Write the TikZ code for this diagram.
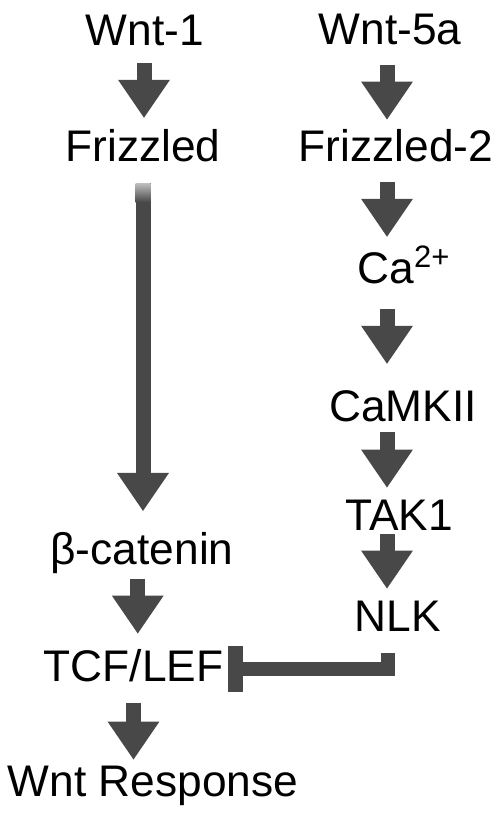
\documentclass[tikz,border=0pt]{standalone}
\usepackage{fontspec}
\setmainfont{Liberation Sans}
\usetikzlibrary{arrows.meta,calc}
\definecolor{flowgray}{HTML}{484848}
\tikzset{
  gene/.style={inner sep=0pt, text height=0.63cm, text depth=0pt, font=\fontsize{25.2}{30}\selectfont},
  flow/.style={flowgray, line width=0.3cm, -{Triangle[width=1.04cm,length=0.76cm,line width=0pt]}},
  inhib/.style={flowgray, line width=0.28cm},
}
\begin{document}
\begin{tikzpicture}[x=0.02cm,y=-0.02cm]
\useasboundingbox (0,0) rectangle (498,815);

% canonical pathway
\node[gene] (wnt1) at (145,29.5) {Wnt-1};
\node[gene] (fz1) at (143,146) {Frizzled};
\node[gene] (bcat) at (142,549) {β-catenin};
\node[gene] (tcf) at (133.5,666) {TCF/LEF};
\node[gene] (resp) at (153,781) {Wnt Response};

% Wnt/Ca2+ pathway
\coordinate (col2) at (387,0);
\node[gene] (wnt5a) at (390,29) {Wnt-5a};
\node[gene] (fz2) at (396,146) {Frizzled-2};
\node[gene] (ca) at (404,267.5) {Ca\textsuperscript{2+}};
\node[gene] (camk) at (403,406) {CaMKII};
\node[gene] (tak1) at (399,515) {TAK1};
\node[gene] (nlk) at (398,616) {NLK};

\draw[flow] ($(wnt1.south)!0.5!(fz1.north)$) +(0,-25) -- +(0,30);
\draw[flow,shorten <=0.42cm,shorten >=0.44cm] (fz1.south) -- (fz1.south |- bcat.north);
\shade[top color=flowgray!35, bottom color=flowgray] ($(fz1.south)+(-7.5,21)$) rectangle ($(fz1.south)+(7.5,40)$);
\draw[flow] ($(bcat.south)!0.5!(tcf.north)$) +(0,-29) -- +(0,26);
\draw[flow] ($(tcf.south)!0.5!(tcf.south |- resp.north)$) +(0,-21) -- +(0,36);

\draw[flow] ($(wnt5a.south -| col2)!0.5!(fz2.north -| col2)$) +(0,-23) -- +(0,32);
\draw[flow] ($(fz2.south -| col2)!0.5!(ca.north -| col2)$) +(0,-25) -- +(0,30);
\draw[flow] ($(ca.south -| col2)!0.5!(camk.north -| col2)$) +(0,-28) -- +(0,27);
\draw[flow] ($(camk.south -| col2)!0.5!(tak1.north -| col2)$) +(0,-29) -- +(0,27);
\draw[flow] ($(tak1.south -| col2)!0.5!(nlk.north -| col2)$) +(0,-32) -- +(0,23);

% NLK blocks TCF/LEF
\coordinate (stop) at ([shift={(12,3)}]tcf.east);
\draw[inhib] ([shift={(-10,21)}]nlk.south) |- (stop);
\draw[flowgray, line width=0.3cm] ([shift={(0,-23)}]stop) -- ([shift={(0,23)}]stop);
\end{tikzpicture}
\end{document}
